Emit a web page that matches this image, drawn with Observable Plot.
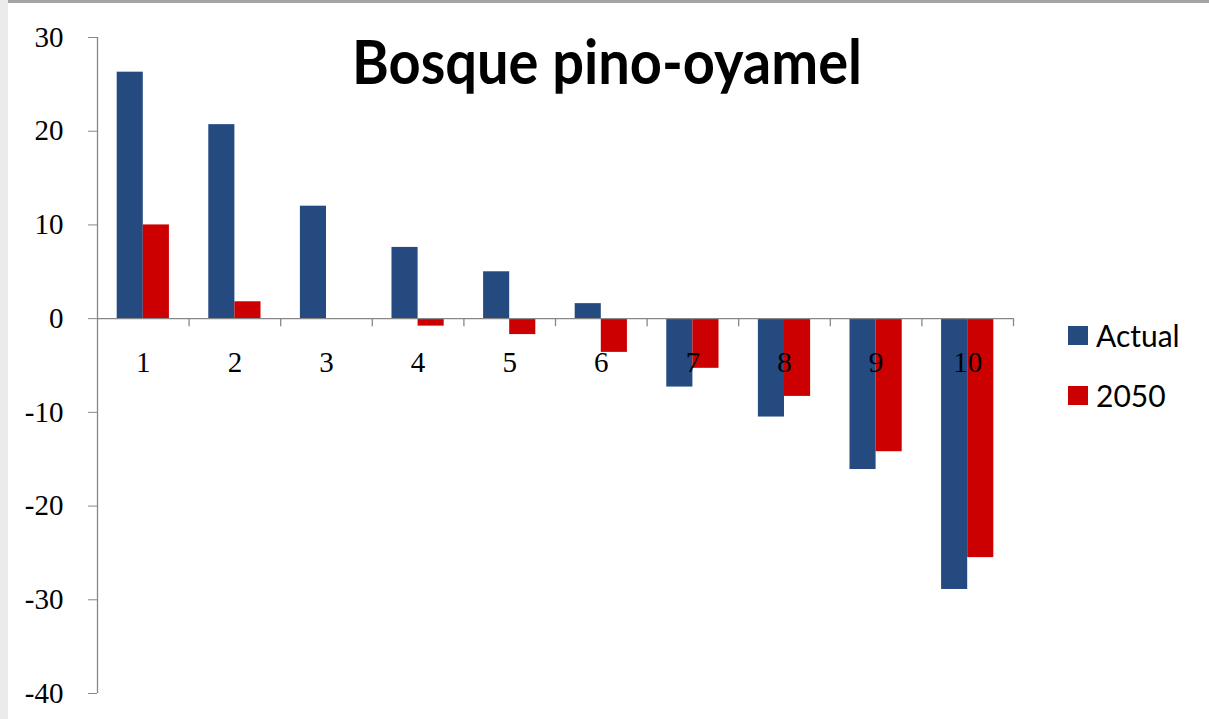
<!DOCTYPE html>
<html>
<head>
<meta charset="utf-8">
<script src="https://cdn.jsdelivr.net/npm/d3@7"></script>
<script src="https://cdn.jsdelivr.net/npm/@observablehq/plot@0.6"></script>
<style>
  body { margin: 0; background: #fff; }
  #wrap { position: relative; width: 1209px; height: 719px; overflow: hidden; background: #fff; }
  #topbar { position: absolute; left: 0; top: 0; width: 1209px; height: 3px; background: #a3a3a3; }
  #leftbar { position: absolute; left: 0; top: 0; width: 8px; height: 719px; background: #ebebeb; }
  #chart { position: absolute; left: 0; top: 0; }
  #title { position: absolute; left: 607px; top: 30px; transform: translateX(-50%) scaleY(1.1);
           transform-origin: 50% 0; font-family: Lato, "Open Sans", sans-serif; font-weight: bold;
           font-size: 56px; line-height: 1; white-space: nowrap; color: #000; }
  .leg { position: absolute; left: 1068px; font-family: Lato, "Open Sans", sans-serif;
         font-size: 30px; color: #000; display: flex; align-items: center; white-space: nowrap; }
  .leg .sw { width: 20px; height: 19px; margin-right: 8px; }
</style>
</head>
<body>
<div id="wrap">
  <div id="chart"></div>
  <div id="topbar"></div>
  <div id="leftbar"></div>
  <div id="title">Bosque pino-oyamel</div>
  <div id="legend"></div>
</div>
<script>
// Categories 1–10 and the two series of values
const categories = [1, 2, 3, 4, 5, 6, 7, 8, 9, 10];
const seriesNames = ["Actual", "2050"];
const actual = [26.3, 20.7, 12.0, 7.6, 5.0, 1.6, -7.3, -10.5, -16.1, -28.9];
const future2050 = [10.0, 1.8, 0, -0.8, -1.7, -3.6, -5.3, -8.3, -14.2, -25.5];
const yTicks = [-40, -30, -20, -10, 0, 10, 20, 30];
const colors = ["#244a80", "#cc0000"];

// Long-format rows; each category occupies one unit on the x scale
const rows = [];
categories.forEach((c, i) => {
  rows.push({cat: c, s: 0, series: seriesNames[0], value: actual[i]});
  rows.push({cat: c, s: 1, series: seriesNames[1], value: future2050[i]});
});
const groupStart = 0.215, barW = 0.285;

const axisGray = "#878787";

const chart = Plot.plot({
  width: 1209,
  height: 719,
  marginLeft: 97,
  marginRight: 196,
  marginTop: 37,
  marginBottom: 26,
  style: {fontFamily: "'Liberation Serif', serif", fontSize: "29px", color: "#000", background: "transparent"},
  x: {domain: [0, categories.length], axis: null},
  y: {domain: [-40, 30], axis: null},
  color: {domain: seriesNames, range: colors},
  marks: [
    Plot.rectY(rows, {
      x1: d => d.cat - 1 + groupStart + d.s * barW,
      x2: d => d.cat - 1 + groupStart + (d.s + 1) * barW,
      y1: () => 0,
      y2: "value",
      fill: "series"
    }),
    Plot.axisY({ticks: yTicks, tickSize: 9, tickPadding: 25, stroke: axisGray, fill: "#000",
                tickFormat: d => String(d), label: null, fontSize: 29}),
    Plot.ruleX([0], {stroke: axisGray, strokeWidth: 1.3}),
    Plot.ruleY([0], {stroke: axisGray, strokeWidth: 1.3}),
    // tick marks on the zero line at category boundaries
    Plot.ruleX(categories, {x: d => d, y1: () => 0, y2: () => 0, insetBottom: -8, stroke: axisGray, strokeWidth: 1.3}),
    Plot.text(categories, {x: d => d - 0.5, y: () => 0, dy: 44, text: d => String(d), fill: "#000", fontSize: 29})
  ]
});
document.getElementById("chart").appendChild(chart);

// Legend
const legend = document.getElementById("legend");
seriesNames.forEach((name, i) => {
  const item = document.createElement("div");
  item.className = "leg";
  item.style.top = (i === 0 ? 317 : 377) + "px";
  const sw = document.createElement("div");
  sw.className = "sw";
  sw.style.background = colors[i];
  const label = document.createElement("span");
  label.textContent = name;
  item.appendChild(sw);
  item.appendChild(label);
  legend.appendChild(item);
});
</script>
</body>
</html>
